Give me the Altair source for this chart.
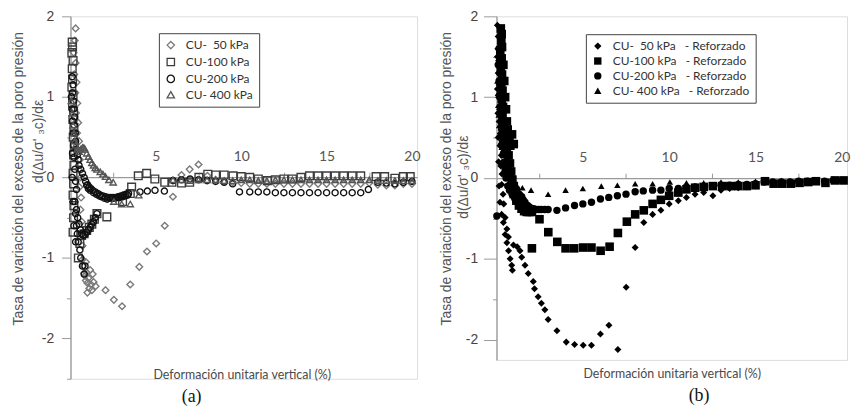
import altair as alt
import pandas as pd

# ---------------- categories / labels ----------------
LEFT_LABELS = ["CU-\u00a0\u00a050 kPa", "CU-100 kPa", "CU-200 kPa", "CU-\u00a0400 kPa"]
RIGHT_LABELS = [s + "\u00a0\u00a0\u00a0- Reforzado" for s in LEFT_LABELS]
X_TICKS = [2.5, 5, 7.5, 10, 12.5, 15, 17.5, 20]
Y_TICKS_L = [-2.5, -2, -1.5, -1, -0.5, 0, 0.5, 1, 1.5, 2]
Y_TICKS_R = [-2, -1.5, -1, -0.5, 0, 0.5, 1, 1.5, 2]
Y_TITLE_1 = "Tasa de variación del exceso de la poro presión"
Y_TITLE_2 = "d(Δu/σ' ₃c)/dε"
X_TITLE = "Deformación unitaria vertical (%)"

# ---------------- (a) unreinforced ----------------
L50_X = [0.30, 0.25, 0.18, 0.30, 0.22, 0.35, 0.28, 0.40, 0.32, 0.45, 0.38, 0.50, 0.42, 0.55, 0.48,
         0.60, 0.52, 0.62, 0.58, 0.66, 0.63, 0.70, 0.70, 0.80, 0.90, 0.99, 0.99, 1.20, 1.47,
         0.75, 0.85, 0.95, 1.05, 1.10, 1.25, 1.35, 0.90, 1.15, 1.30,
         2.05, 2.54, 3.02, 3.50, 4.03, 4.48, 5.02, 5.52, 6.00, 6.50, 6.98, 7.50, 8.02, 8.50, 9.00,
         9.50, 10.0, 10.5, 11.0, 11.5, 12.0, 12.5, 13.0, 13.5, 14.0, 14.5, 15.0, 15.5, 16.0, 16.5,
         17.0, 17.5, 18.0, 18.5, 19.0, 19.5, 20.0]
L50_Y = [1.85, 1.70, 1.55, 1.42, 1.28, 1.18, 1.05, 0.92, 0.80, 0.68, 0.55, 0.45, 0.32, 0.22, 0.10,
         0.00, -0.12, -0.25, -0.40, -0.55, -0.70, -0.85, -1.02, -1.19, -1.28, -1.31, -1.43, -1.33, -1.35,
         -1.10, -1.22, -1.18, -1.25, -1.38, -1.40, -1.30, -1.05, -1.15, -1.20,
         -1.40, -1.52, -1.60, -1.33, -1.11, -0.92, -0.82, -0.60, -0.24, 0.03, 0.10, 0.16, 0.02, -0.03, -0.05,
         -0.06, -0.07, -0.08, -0.08, -0.08, -0.08, -0.08, -0.08, -0.08, -0.08, -0.08, -0.08, -0.08, -0.08, -0.08,
         -0.08, -0.07, -0.09, -0.10, -0.10, -0.08, -0.08]

L100_X = [0.10, 0.12, 0.08, 0.15, 0.10, 0.12, 0.08, 0.15, 0.12, 0.18, 0.14, 0.20, 0.16, 0.22, 0.18,
          0.20, 0.15, 0.18, 0.15, 0.20, 0.18, 0.15, 0.46, 0.55, 0.65, 0.80, 0.95, 1.10, 1.25, 1.40,
          1.55, 2.13, 3.05, 3.50, 3.58, 3.97, 4.46, 4.94, 5.52, 5.94, 6.50, 6.98, 7.52, 8.04, 8.50,
          9.00, 9.52, 10.0, 10.5, 11.0, 11.53, 12.0, 12.5, 13.0, 13.5, 14.0, 14.5, 15.0, 15.5, 16.0,
          16.5, 17.0, 17.9, 18.4, 19.0, 19.5, 19.9]
L100_Y = [1.68, 1.62, 1.55, 1.45, 1.35, 1.22, 1.12, 1.02, 0.92, 0.82, 0.72, 0.62, 0.50, 0.40, 0.28,
          0.15, 0.05, -0.08, -0.22, -0.35, -0.50, -0.68, -1.00, -0.82, -0.72, -0.70, -0.66, -0.62, -0.58, -0.52,
          -0.45, -0.49, -0.30, -0.20, -0.12, 0.02, 0.05, -0.02, -0.06, -0.06, -0.07, -0.06, 0.00, 0.04, 0.03,
          0.03, 0.02, 0.01, 0.00, -0.02, -0.04, -0.03, -0.02, -0.02, 0.00, 0.02, 0.02, 0.02, 0.02, 0.02,
          0.02, 0.02, 0.01, 0.01, -0.01, 0.01, 0.01]

L200_X = [0.10, 0.15, 0.12, 0.18, 0.20, 0.25, 0.22, 0.28, 0.30, 0.35, 0.40, 0.45, 0.50, 0.60, 0.70,
          0.80, 0.89, 1.00, 1.10, 1.20, 1.30, 1.45, 1.60, 1.75, 1.90, 2.05, 2.20, 2.35, 2.50, 2.65,
          2.80, 2.95, 3.10, 3.25, 3.40, 0.25, 0.30, 0.35, 0.40, 0.45, 0.55, 0.60, 0.70, 0.80, 0.85,
          0.35, 0.42, 0.50, 0.58, 0.66, 0.75, 0.85, 0.95, 1.05, 1.15, 1.25, 1.35, 1.45, 1.55,
          0.95, 1.05, 1.15, 1.35, 1.52, 1.68, 1.82, 2.00, 2.15, 2.30, 2.45, 2.60, 2.75, 2.90, 3.05,
          3.20, 3.35, 0.05, 0.08, 0.12, 0.15, 0.18, 0.20, 0.25, 0.30, 0.35, 0.12, 0.10, 0.15, 0.20, 0.30,
          4.07, 4.50, 4.95, 5.50, 6.00, 6.50, 7.00, 7.50, 8.00, 8.50, 9.00, 9.50, 9.90, 10.5, 11.0,
          11.5, 12.0, 12.5, 13.0, 13.5, 14.0, 14.5, 15.0, 15.5, 16.0, 16.5, 17.0, 17.45, 18.0, 18.5,
          19.0, 19.5, 20.0]
L200_Y = [1.25, 1.15, 1.05, 0.95, 0.85, 0.75, 0.65, 0.55, 0.45, 0.35, 0.28, 0.22, 0.15, 0.10, 0.05,
          0.00, -0.05, -0.09, -0.12, -0.14, -0.16, -0.18, -0.20, -0.22, -0.23, -0.24, -0.25, -0.25, -0.25, -0.25,
          -0.24, -0.23, -0.22, -0.21, -0.20, -0.30, -0.45, -0.60, -0.70, -0.80, -0.90, -1.00, -1.10, -1.20, -1.10,
          -0.40, -0.50, -0.58, -0.65, -0.70, -0.72, -0.71, -0.68, -0.65, -0.62, -0.58, -0.55, -0.50, -0.45,
          -0.10, -0.14, -0.16, -0.19, -0.21, -0.23, -0.24, -0.26, -0.27, -0.26, -0.26, -0.26, -0.25, -0.25, -0.24,
          -0.23, -0.22, 1.00, 0.85, 0.70, 0.55, 0.40, 0.25, 0.10, -0.05, -0.15, 0.30, 0.00, -0.30, -0.60, -0.80,
          -0.18, -0.17, -0.16, -0.17, -0.04, -0.03, -0.02, -0.03, -0.04, -0.05, -0.06, -0.08, -0.18, -0.18, -0.18,
          -0.18, -0.19, -0.19, -0.19, -0.19, -0.19, -0.19, -0.19, -0.19, -0.19, -0.19, -0.19, -0.15, -0.06, -0.07,
          -0.08, -0.06, -0.05]

L400_X = [0.05, 0.10, 0.15, 0.20, 0.25, 0.30, 0.40, 0.50, 0.60, 0.70, 0.78, 0.85, 0.95, 1.05, 1.15,
          1.25, 1.35, 1.45, 1.55, 1.74, 1.90, 2.05, 2.25, 2.50, 2.54, 3.00, 3.50, 4.00, 6.0, 6.5,
          7.0, 7.5, 8.0, 8.5, 9.0, 9.5, 10.0, 10.5, 11.0, 11.5, 12.0, 12.5, 13.0, 13.5, 14.0,
          14.5, 15.0, 15.5, 16.0, 16.5, 17.0, 17.5, 18.0, 18.5, 19.0, 19.5, 20.0]
L400_Y = [0.95, 0.80, 0.65, 0.55, 0.45, 0.40, 0.35, 0.32, 0.35, 0.37, 0.37, 0.35, 0.30, 0.26, 0.22,
          0.18, 0.15, 0.12, 0.10, 0.07, 0.04, 0.01, -0.03, -0.06, -0.30, -0.33, -0.33, -0.22, -0.03, -0.03,
          -0.04, -0.03, -0.03, -0.03, -0.04, -0.04, -0.03, -0.03, -0.04, -0.04, -0.03, -0.03, -0.03, -0.03, -0.03,
          -0.03, -0.03, -0.03, -0.03, -0.03, -0.03, -0.03, -0.04, -0.04, -0.04, -0.04, -0.04]

# ---------------- (b) reinforced ----------------
R50_X = [0.05, 0.10, 0.08, 0.12, 0.10, 0.15, 0.12, 0.18, 0.15, 0.22, 0.20, 0.28, 0.25, 0.32, 0.30,
         0.38, 0.42, 0.50, 0.60, 0.69, 0.79, 0.88, 0.92, 0.98, 1.20, 1.36, 1.46, 1.65, 1.84, 2.13,
         0.05, 0.05, 0.08, 0.10, 0.12, 0.15, 0.20, 0.30, 0.40, 0.50, 0.60, 0.70,
         2.20, 2.41, 2.60, 2.80, 2.99, 3.50, 4.04, 4.52, 5.02, 5.50, 6.02, 6.51, 7.03, 7.51, 8.03,
         8.53, 9.04, 9.52, 10.0, 10.53, 11.0, 11.5, 12.0, 12.53, 13.0, 13.5, 14.0, 14.5, 15.0, 15.55,
         16.05, 16.5, 17.0, 17.55, 18.05, 18.5, 19.0, 19.6, 20.1]
R50_Y = [1.89, 1.75, 1.60, 1.45, 1.30, 1.15, 1.00, 0.85, 0.70, 0.55, 0.40, 0.28, 0.15, 0.05, -0.08,
         -0.20, -0.32, -0.49, -0.63, -0.73, -1.00, -1.08, -1.14, -0.83, -0.85, -0.90, -0.98, -1.08, -1.18, -1.28,
         1.50, 1.10, 0.80, 0.50, 0.20, -0.10, -0.30, -0.45, -0.55, -0.70, -0.80, -0.90,
         -1.37, -1.47, -1.55, -1.63, -1.75, -1.89, -2.03, -2.06, -2.07, -2.07, -1.93, -1.82, -2.12, -1.35, -0.86,
         -0.55, -0.45, -0.40, -0.32, -0.28, -0.24, -0.20, -0.18, -0.22, -0.15, -0.13, -0.12, -0.11, -0.10, -0.03,
         -0.06, -0.06, -0.05, -0.05, -0.04, -0.04, -0.05, -0.03, -0.03]

R100_X = [0.25, 0.30, 0.28, 0.22, 0.30, 0.25, 0.32, 0.28, 0.35, 0.30, 0.38, 0.35, 0.42, 0.45, 0.55,
          0.90, 1.00, 0.60, 0.70, 0.78, 0.85, 0.92, 1.00, 1.10, 1.20, 1.35, 1.50, 1.65, 1.80, 2.05,
          0.32, 0.40, 0.45, 0.50, 0.55, 0.60, 0.65, 0.75, 0.80, 0.50, 0.60, 0.70, 0.85, 1.00, 1.15,
          1.30, 1.45, 1.60, 1.75, 1.90, 2.05,
          2.49, 3.00, 3.52, 4.00, 4.50, 5.02, 5.50, 6.03, 6.55, 7.03, 7.55, 8.03, 8.53, 9.04, 9.52,
          10.0, 10.53, 11.0, 11.5, 12.0, 12.53, 13.07, 13.55, 14.0, 14.5, 15.0, 15.55, 16.05, 16.55, 17.05,
          17.55, 18.05, 18.5, 19.05, 19.6, 20.1]
R100_Y = [1.85, 1.78, 1.70, 1.58, 1.48, 1.38, 1.28, 1.18, 1.08, 0.98, 0.88, 0.78, 0.68, 0.58, 0.50,
          0.54, 0.42, 0.38, 0.28, 0.18, 0.08, -0.02, -0.10, -0.16, -0.22, -0.28, -0.33, -0.37, -0.40, -0.87,
          1.62, 1.40, 1.20, 1.00, 0.85, 0.70, 0.60, 0.50, 0.40, 0.30, 0.15, 0.05, -0.10, -0.20, -0.28,
          -0.34, -0.38, -0.41, -0.42, -0.42, -0.42,
          -0.51, -0.67, -0.79, -0.87, -0.87, -0.86, -0.86, -0.90, -0.85, -0.68, -0.54, -0.45, -0.40, -0.32, -0.27,
          -0.22, -0.18, -0.14, -0.12, -0.11, -0.10, -0.10, -0.10, -0.10, -0.10, -0.09, -0.04, -0.07, -0.07, -0.07,
          -0.06, -0.05, -0.04, -0.06, -0.03, -0.03]

R200_X = [0.15, 0.18, 0.20, 0.22, 0.25, 0.30, 0.32, 0.38, 0.42, 0.48, 0.55, 0.62, 0.69, 0.78, 0.85,
          0.95, 1.05, 1.15, 1.25, 1.35, 1.46, 1.55, 1.65, 1.80, 1.92, 2.03, 2.15, 2.30, 2.45, 2.60,
          0.10, 0.15, 0.20, 0.25, 0.30, 0.35, 0.40, 0.45, 0.50, 0.55, 0.65, 0.75, 0.90, 1.05, 1.20,
          1.35, 1.50, 1.70, 1.85,
          2.80, 2.99, 3.50, 4.00, 4.52, 5.00, 5.50, 6.02, 6.50, 7.00, 7.50, 8.03, 8.50, 9.04, 9.52,
          10.0, 10.53, 11.0, 11.5, 12.0, 12.5, 13.0, 13.5, 14.0, 14.5, 15.0, 15.5, 16.0, 16.5, 17.0,
          17.5, 18.0, 18.5, 19.0, 19.5, 20.0, 0.02]
R200_Y = [1.60, 1.45, 1.30, 1.15, 1.00, 0.88, 0.75, 0.62, 0.50, 0.40, 0.30, 0.20, 0.09, 0.02, -0.03,
          -0.08, -0.12, -0.16, -0.19, -0.21, -0.23, -0.27, -0.30, -0.34, -0.36, -0.38, -0.38, -0.39, -0.39, -0.39,
          1.40, 1.20, 1.00, 0.80, 0.60, 0.45, 0.30, 0.20, 0.10, 0.00, -0.10, -0.15, -0.20, -0.25, -0.30,
          -0.33, -0.36, -0.38, -0.40,
          -0.39, -0.39, -0.40, -0.37, -0.34, -0.32, -0.30, -0.26, -0.24, -0.22, -0.20, -0.17, -0.16, -0.15, -0.15,
          -0.13, -0.13, -0.11, -0.11, -0.10, -0.10, -0.09, -0.09, -0.08, -0.08, -0.07, -0.05, -0.05, -0.05, -0.05,
          -0.04, -0.04, -0.04, -0.04, -0.03, -0.03, -0.47]

R400_X = [0.05, 0.08, 0.10, 0.12, 0.15, 0.20, 0.25, 0.30, 0.40, 0.50, 0.60, 0.70, 0.80, 0.90, 1.00,
          1.20, 1.50, 2.00, 2.99, 4.00, 5.00, 6.07, 7.00, 8.03, 9.04, 10.04, 11.0, 12.0, 13.0, 14.0,
          15.0, 15.55, 16.5, 17.5, 18.5, 19.5]
R400_Y = [1.20, 1.05, 0.90, 0.78, 0.65, 0.55, 0.45, 0.38, 0.30, 0.22, 0.15, 0.08, 0.02, -0.03, -0.07,
          -0.10, -0.12, -0.15, -0.20, -0.15, -0.13, -0.10, -0.09, -0.07, -0.07, -0.05, -0.06, -0.06, -0.05, -0.05,
          -0.04, -0.02, -0.03, -0.03, -0.03, -0.02]

# ---------------- styles ----------------
SHAPES = ["diamond", "square", "circle", "triangle-up"]
LEFT_COLORS = ["#7a7a7a", "#3c3c3c", "#111111", "#555555"]
RIGHT_COLORS = ["#000000", "#000000", "#000000", "#000000"]
LEFT_SIZES = [45, 60, 38, 40]
RIGHT_SIZES = [50, 75, 55, 42]
AXC = "#9a9a9a"
TXT = "#4a4a4a"


def frame(labels, xs_list, ys_list, sizes):
    rows = []
    for lab, xs, ys, s in zip(labels, xs_list, ys_list, sizes):
        for xv, yv in zip(xs, ys):
            rows.append({"serie": lab, "x": xv, "y": yv, "sz": s})
    return pd.DataFrame(rows)


def text_layer(text, x, y, **kw):
    return alt.Chart(pd.DataFrame({"t": [text]})).mark_text(**kw).encode(
        text="t:N", x=alt.value(x), y=alt.value(y)
    )


def panel(df, labels, colors, filled, width, height, xdom, ydom, yticks, xoff,
          legend_xy, title_x, t2_xy, xt_xy, tag, tag_xy, major_tick, lab_pad, stroke_w):
    xaxis = alt.Axis(
        orient="top", offset=xoff, values=X_TICKS, title=None, grid=False,
        labelExpr="datum.value % 5 == 0 ? datum.label : ''",
        tickOpacity={"condition": {"test": "datum.value % 5 != 0", "value": 1}, "value": 0},
        tickSize=5, labelPadding=9, domainColor=AXC, tickColor=AXC, domainWidth=1.3,
        labelFont="Lato", labelFontSize=14, labelColor="#555", labelAngle=0,
    )
    yaxis = alt.Axis(
        values=yticks, grid=False,
        labelExpr="datum.value % 1 == 0 ? (datum.value < 0 ? '-' + abs(datum.value) : '' + datum.value) : ''",
        tickSize={"condition": {"test": "datum.value % 1 == 0", "value": major_tick}, "value": 4},
        labelPadding=lab_pad, domainColor=AXC, tickColor=AXC, domainWidth=1.3,
        labelFont="Liberation Sans", labelFontSize=14, labelColor="#444",
        title=Y_TITLE_1, titleX=title_x, titleY=163, titleAngle=270,
        titleAlign="center", titleBaseline="middle", titleFont="Liberation Sans",
        titleFontSize=14, titleFontWeight="normal", titleColor="#555",
    )
    legend = alt.Legend(
        title=None, orient="none", legendX=legend_xy[0], legendY=legend_xy[1],
        direction="vertical", strokeColor="#444", fillColor="white", padding=6,
        rowPadding=3, labelFont="Lato", labelFontSize=12, labelColor="#333",
        labelOffset=9, symbolSize=55, symbolStrokeWidth=1.3,
    )
    pts = alt.Chart(df).mark_point(filled=filled, opacity=1, strokeWidth=stroke_w).encode(
        x=alt.X("x:Q", scale=alt.Scale(domain=xdom, nice=False, zero=False), axis=xaxis),
        y=alt.Y("y:Q", scale=alt.Scale(domain=ydom, nice=False, zero=False), axis=yaxis),
        shape=alt.Shape("serie:N", scale=alt.Scale(domain=labels, range=SHAPES), legend=legend),
        color=alt.Color("serie:N", scale=alt.Scale(domain=labels, range=colors), legend=legend),
        size=alt.Size("sz:Q", scale=None),
    )
    t2 = text_layer(Y_TITLE_2, t2_xy[0], t2_xy[1], angle=270, font="Liberation Sans",
                    fontSize=14, color="#555", align="center", baseline="middle")
    xt = text_layer(X_TITLE, xt_xy[0], xt_xy[1], font="Lato", fontSize=12.5, color=TXT,
                    align="center", baseline="middle")
    tg = text_layer(tag, tag_xy[0], tag_xy[1], font="Liberation Serif", fontSize=18,
                    color="#111", align="center", baseline="middle")
    return alt.layer(pts, t2, xt, tg).properties(width=width, height=height)


df_left = frame(LEFT_LABELS, [L50_X, L100_X, L200_X, L400_X], [L50_Y, L100_Y, L200_Y, L400_Y], LEFT_SIZES)
df_right = frame(RIGHT_LABELS, [R50_X, R100_X, R200_X, R400_X], [R50_Y, R100_Y, R200_Y, R400_Y], RIGHT_SIZES)

left = panel(df_left, LEFT_LABELS, LEFT_COLORS, False, 349, 365, [0, 20.3], [-2.5, 2], Y_TICKS_L, -162,
             (89, 17), -52, (-32, 126), (173, 361), "(a)", (122, 383), 9, 8, 1.4)
right = panel(df_right, RIGHT_LABELS, RIGHT_COLORS, True, 353, 346, [0, 20.3], [-2.25, 2], Y_TICKS_R, -163,
              (90, 18), -50, (-33, 162), (177, 360), "(b)", (204, 382), 13, 6, 1.2)

chart = alt.hconcat(left, right, spacing=18).properties(
    padding={"left": 11, "top": 7, "right": 0, "bottom": 0}
).resolve_scale(shape="independent", color="independent").configure_view(stroke=None).configure(
    background="white"
)

chart.save("out.html", embed_options={"renderer": "svg", "actions": False})
